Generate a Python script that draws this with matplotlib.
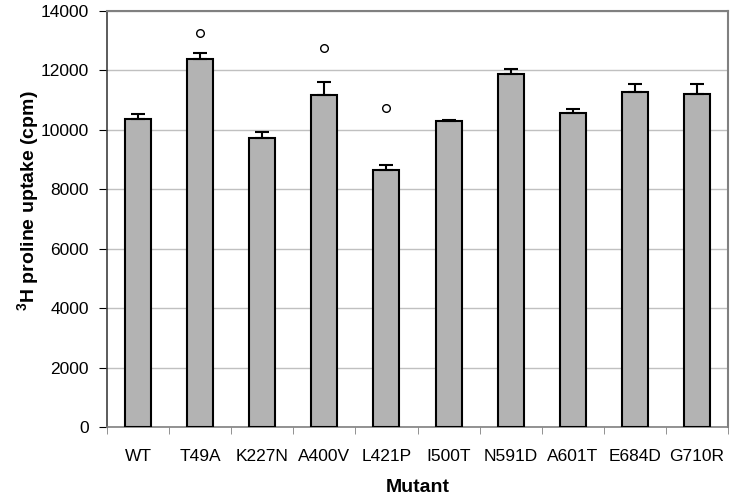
import matplotlib
matplotlib.use("Agg")
import matplotlib.pyplot as plt
import numpy as np

categories = ["WT", "T49A", "K227N", "A400V", "L421P", "I500T", "N591D", "A601T", "E684D", "G710R"]
uptake = [10370, 12390, 9740, 11170, 8640, 10290, 11890, 10580, 11260, 11210]
errors = [160, 210, 200, 440, 170, 40, 170, 110, 290, 340]
sig_positions = ["T49A", "A400V", "L421P"]
sig_values = [13260, 12750, 10730]

plt.rcParams['font.family'] = ['Liberation Sans', 'DejaVu Sans']
plt.rcParams['mathtext.fontset'] = 'custom'
plt.rcParams['mathtext.rm'] = 'Liberation Sans'
plt.rcParams['mathtext.bf'] = 'Liberation Sans:bold'

fig = plt.figure(figsize=(7.36, 5.0), dpi=100)
ax = fig.add_axes([107/736, 1-427/500, (728-107)/736, (427-11)/500])

x = np.arange(len(categories))
ax.bar(x, uptake, width=0.42, color="#b3b3b3", edgecolor="black", linewidth=1.5, zorder=3)
ax.errorbar(x, uptake, yerr=[np.zeros(len(errors)), errors], fmt="none", ecolor="black",
            elinewidth=1.5, capsize=5, capthick=1.5, zorder=4)
sx = [categories.index(c) for c in sig_positions]
ax.plot(sx, sig_values, linestyle="none", marker="o", markersize=5.5, markerfacecolor="white",
        markeredgecolor="black", markeredgewidth=1.0, zorder=5)

ax.set_xlim(-0.5, len(categories) - 0.5)
ax.set_ylim(0, 14000)
ax.set_yticks(np.arange(0, 14001, 2000))
ax.yaxis.grid(True, color="#c0c0c0", linewidth=1.0, zorder=0)
ax.set_axisbelow(True)

ax.set_xticks(x)
ax.set_xticklabels(categories, fontsize=12.5)
ax.set_xticks(np.arange(-0.5, len(categories)), minor=True)
ax.tick_params(axis="x", which="major", length=0, pad=16)
ax.tick_params(axis="x", which="minor", length=5, color="#808080")
ax.tick_params(axis="y", labelsize=12.5, length=6, color="black", pad=7)

for s in ["top", "right"]:
    ax.spines[s].set_color("#808080")
    ax.spines[s].set_linewidth(1.5)
ax.spines["left"].set_color("#404040")
ax.spines["left"].set_linewidth(1.2)
ax.spines["bottom"].set_color("#808080")
ax.spines["bottom"].set_linewidth(1.2)

ax.set_xlabel("Mutant", fontsize=14, fontweight="bold", labelpad=11)
ax.set_ylabel(r"$\mathbf{^3}$H proline uptake (cpm)", fontsize=14, fontweight="bold")
ax.yaxis.set_label_coords(-0.107, 0.543)

fig.savefig("out.png", dpi=100)
